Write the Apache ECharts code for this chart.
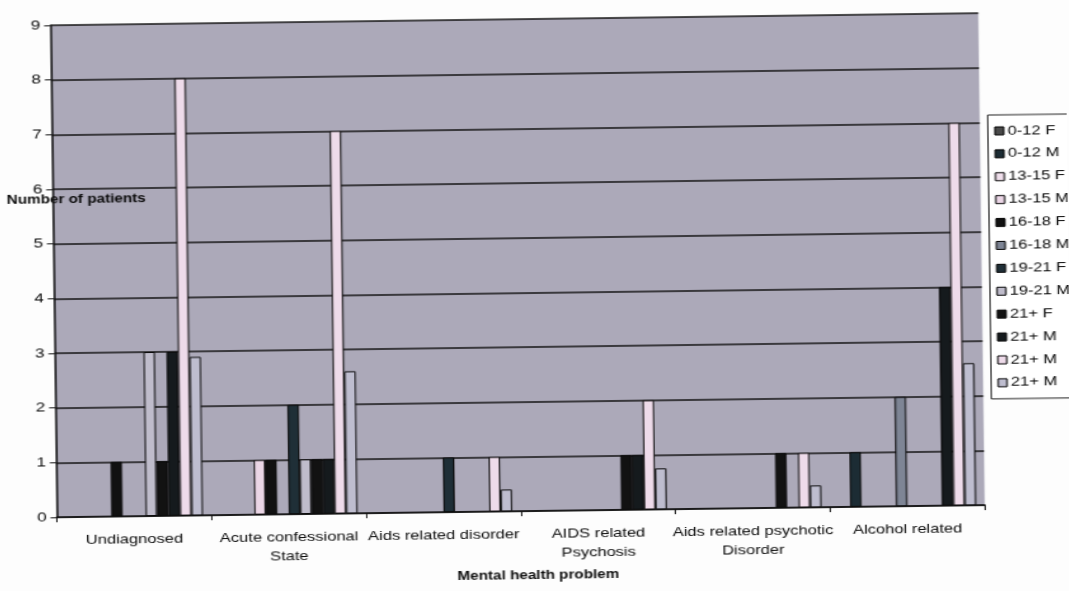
<!DOCTYPE html>
<html>
<head>
<meta charset="utf-8">
<script src="https://cdn.jsdelivr.net/npm/echarts@6/dist/echarts.min.js"></script>
<style>
html,body{margin:0;padding:0;background:#fdfdfd;overflow:hidden;width:1069px;height:591px}
#rot{position:absolute;left:0;top:0;width:1069px;height:591px;transform:rotate(-0.75deg);transform-origin:534.5px 295.5px}
#chart{position:absolute;left:0;top:0;width:842px;height:591px;transform:scaleX(1.27);transform-origin:0 0}
</style>
</head>
<body>
<div id="rot"><div id="chart"></div></div>
<script>
const categories = ['Undiagnosed', 'Acute confessional\nState', 'Aids related disorder', 'AIDS related\nPsychosis', 'Aids related psychotic\nDisorder', 'Alcohol related'];
const legendNames = ['0-12 F', '0-12 M', '13-15 F', '13-15 M', '16-18 F', '16-18 M', '19-21 F', '19-21 M', '21+ F', '21+ M', '21+ M', '21+ M'];
const yTicks = [0, 1, 2, 3, 4, 5, 6, 7, 8, 9];

const v0_12F  = [0, 0, 0, 0, 0, 0];
const v0_12M  = [0, 0, 0, 0, 0, 1];
const v13_15F = [0, 0, 0, 0, 0, 0];
const v13_15M = [0, 1, 0, 0, 0, 0];
const v16_18F = [1, 1, 0, 0, 0, 0];
const v16_18M = [0, 0, 0, 0, 0, 2];
const v19_21F = [0, 2, 1, 0, 0, 0];
const v19_21M = [3, 1, 0, 0, 0, 0];
const v21F    = [1, 1, 0, 1, 1, 0];
const v21M_a  = [3, 1, 0, 1, 0, 4];
const v21M_b  = [8, 7, 1, 2, 1, 7];
const v21M_c  = [2.9, 2.6, 0.4, 0.75, 0.4, 2.6];

const seriesValues = [v0_12F, v0_12M, v13_15F, v13_15M, v16_18F, v16_18M, v19_21F, v19_21M, v21F, v21M_a, v21M_b, v21M_c];
const seriesColors = ['#4a4a4a', '#1c2c34', '#f0dfec', '#ebd6e6', '#111111', '#7e8595', '#1f2f37', '#bfbccb', '#121212', '#151a1d', '#eedbea', '#bebdcf'];

const FONT = '"Liberation Sans", Arial, sans-serif';
const names = legendNames.map((n, i) => n + '\u200b'.repeat(i));

const chart = echarts.init(document.getElementById('chart'), null, {width: 842, height: 591, renderer: 'canvas'});
chart.setOption({
  animation: false,
  backgroundColor: 'transparent',
  textStyle: {fontFamily: FONT},
  grid: {left: 42.5, top: 19, width: 730.7, height: 492, show: true, backgroundColor: '#aca9b9', borderWidth: 0},
  legend: {
    orient: 'vertical', left: 779.5, top: 121,
    data: names,
    formatter: n => n.replace(/\u200b/g, ''),
    icon: 'rect', itemWidth: 7, itemHeight: 8, itemGap: 8.9,
    padding: [9, 30, 9, 5],
    backgroundColor: '#ffffff', borderColor: '#222', borderWidth: 1,
    itemStyle: {borderColor: '#000', borderWidth: 1},
    textStyle: {fontSize: 13, color: '#0a0a0a', fontFamily: FONT, lineHeight: 14, padding: [0, 0, 0, -2]}
  },
  xAxis: {
    type: 'category', data: categories,
    axisLine: {show: true, lineStyle: {color: '#111', width: 1.5}},
    axisTick: {show: true, length: 5, alignWithLabel: false, interval: 0, lineStyle: {color: '#111'}},
    axisLabel: {interval: 0, fontSize: 13, color: '#0a0a0a', margin: 14, lineHeight: 19, fontFamily: FONT},
    splitLine: {show: false}
  },
  yAxis: {
    type: 'value', min: yTicks[0], max: yTicks[yTicks.length - 1], interval: 1,
    axisLine: {show: true, lineStyle: {color: '#111', width: 1.5}},
    axisTick: {show: true, length: 5, lineStyle: {color: '#111'}},
    axisLabel: {fontSize: 13.5, color: '#0a0a0a', margin: 8, fontFamily: FONT},
    splitLine: {show: true, lineStyle: {color: '#151515', width: 1.5}}
  },
  graphic: [
    {type: 'text', left: 6.3, top: 188, style: {text: 'Number of patients', font: 'bold 12px ' + FONT, fill: '#0a0a0a'}},
    {type: 'text', left: 'center', top: 570, style: {text: 'Mental health problem', font: 'bold 12px ' + FONT, fill: '#0a0a0a', textAlign: 'center'}}
  ],
  series: seriesValues.map((vals, i) => ({
    name: names[i], type: 'bar',
    data: vals.map(v => v === 0 ? null : v),
    barGap: '0%', barCategoryGap: '11.1%',
    itemStyle: {color: seriesColors[i], borderColor: '#0a0a0a', borderWidth: 1}
  }))
});
</script>
</body>
</html>
